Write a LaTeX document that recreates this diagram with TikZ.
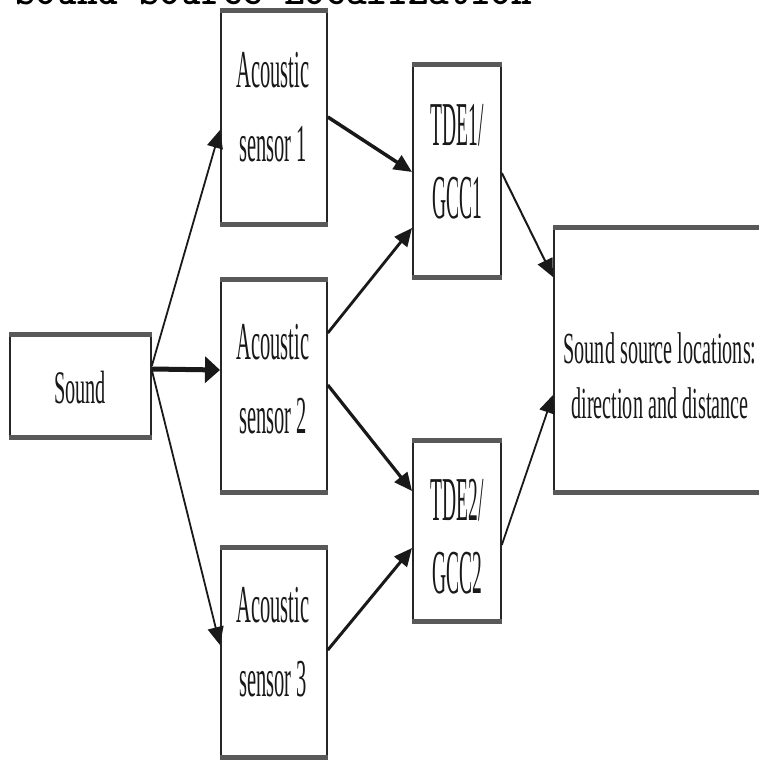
\documentclass[tikz,border=0pt]{standalone}
\usepackage{fontspec}
\setmainfont{Liberation Serif}
\usepackage{graphicx}
\usetikzlibrary{arrows.meta,calc}
\newcommand{\lbltxt}[4]{\scalebox{1}[#3]{\fontsize{#1}{#2}\selectfont\begin{tabular}{@{}c@{}}#4\end{tabular}}}
\tikzset{
 box/.style={draw=black!85, line width=1.8pt, fill=white, inner sep=0pt, anchor=north west},
 hedge/.style={draw=black!65, line width=5pt},
 arr/.style={draw=black!90, -{Triangle[length=18pt,width=16pt]}, line width=2pt},
 harr/.style={draw=black!90, -{Triangle[length=15pt,width=26pt]}, line width=5pt},
 lbl/.style={inner sep=0pt, text=black!90}
}
\begin{document}
\begin{tikzpicture}[x=1pt,y=-1pt]
\useasboundingbox (0,0) rectangle (759,762);
\fill[white] (0,0) rectangle (759,762);
\node[anchor=base west, inner sep=0pt, font=\fontsize{39.4}{40}\selectfont\ttfamily\bfseries] (title) at (15,5) {Sound Source Localization};

% boxes
\node[box, minimum width=141pt, minimum height=106pt] (sound) at (9,332) {};
\node[box, minimum width=106pt, minimum height=216pt] (s1) at (220,9) {};
\node[box, minimum width=106pt, minimum height=216pt] (s2) at (220,277) {};
\node[box, minimum width=106pt, minimum height=213pt] (s3) at (220,545) {};
\node[box, minimum width=88pt, minimum height=215pt] (t1) at (412,63) {};
\node[box, minimum width=88pt, minimum height=184pt] (t2) at (412,438) {};
\node[box, minimum width=220pt, minimum height=268pt] (fin) at (553,225) {};
\foreach \n in {sound,s1,s2,s3,t1,t2,fin}{
  \draw[hedge] ([yshift=-2pt]\n.north west) -- ([yshift=-2pt]\n.north east);
  \draw[hedge] ([yshift=2pt]\n.south west) -- ([yshift=2pt]\n.south east);
}

% labels
\node[lbl] (soundl) at (80,388) {\scalebox{1}[2.3]{\fontsize{20.3}{24}\selectfont Sound}};
\node[lbl] (s1l) at (273,110) {\lbltxt{20.5}{28.5}{2.6}{Acoustic\\sensor 1}};
\node[lbl] (s2l) at (273,382) {\lbltxt{20.5}{28.5}{2.6}{Acoustic\\sensor 2}};
\node[lbl] (s3l) at (273,645) {\lbltxt{20.5}{28.5}{2.6}{Acoustic\\sensor 3}};
\node[lbl] (t1l) at (457,167) {\lbltxt{19.5}{22.8}{3.2}{TDE1/\\GCC1}};
\node[lbl] (t2l) at (457,542) {\lbltxt{19.5}{22.8}{3.2}{TDE2/\\GCC2}};
\node[lbl] (finl) at (660,380) {\lbltxt{20.2}{25}{2.2}{Sound source locations:\\direction and distance}};

% connectors
\draw[arr, line width=1.8pt] (sound.east |- 0,366) -- (s1.west |- 0,130);
\draw[harr] (sound.east |- 0,369) -- (s2.west |- 0,370);
\draw[arr, line width=1.8pt] (sound.east |- 0,370) -- (s3.west |- 0,645);
\draw[arr, line width=3.5pt] (s1.east |- 0,117) -- (t1.west |- 0,172);
\draw[arr, line width=2.8pt] (s2.east |- 0,333) -- (t1.west |- 0,228);
\draw[arr, line width=3.2pt] (s2.east |- 0,385) -- (t2.west |- 0,491);
\draw[arr, line width=3pt] (s3.east |- 0,650) -- (t2.west |- 0,548);
\draw[arr, line width=2pt] (t1.east |- 0,173) -- (fin.west |- 0,277);
\draw[arr, line width=1.8pt] (t2.east |- 0,545) -- (fin.west |- 0,395);
\end{tikzpicture}
\end{document}
